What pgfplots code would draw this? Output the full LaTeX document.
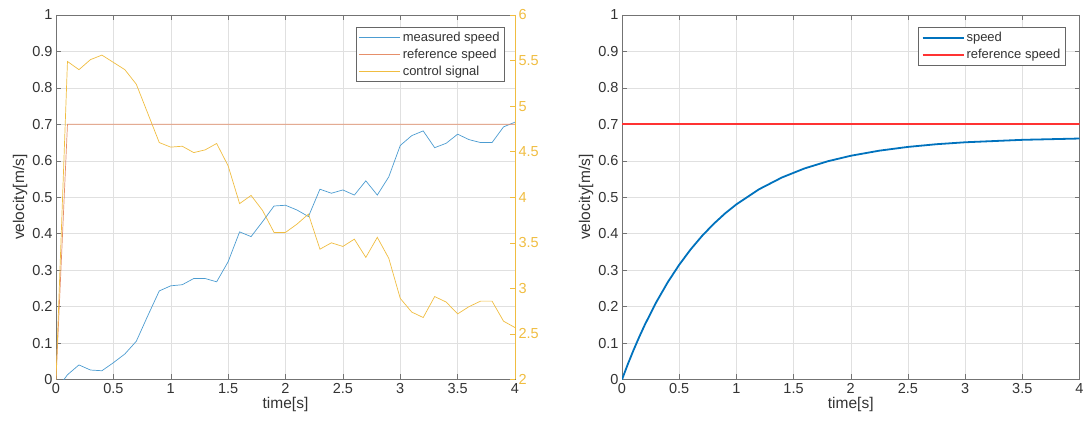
\documentclass[border=0pt]{standalone}
\usepackage{pgfplots}
\pgfplotsset{compat=1.18}
\usepackage{fontspec}
\setmainfont{Liberation Sans}
\definecolor{mblue}{rgb}{0,0.447,0.741}
\definecolor{morange}{rgb}{0.85,0.325,0.098}
\definecolor{myellow}{rgb}{0.929,0.694,0.125}
\definecolor{axgray}{rgb}{0.2,0.2,0.2}
\definecolor{gridgray}{rgb}{0.88,0.88,0.88}
\definecolor{mred}{rgb}{1,0.2,0.2}
\colorlet{lblue}{mblue!70!white}
\colorlet{lorange}{morange!65!white}
\colorlet{lyellow}{myellow!85!white}
\pgfplotsset{
  mat/.style={
    scale only axis, height=364.5pt,
    xmin=0, xmax=4, xtick={0,0.5,1,1.5,2,2.5,3,3.5,4},
    tick align=inside, major tick length=5pt,
    axis line style={black!55, line width=0.6pt},
    every tick/.style={black!55, line width=0.5pt},
    tick label style={font=\fontsize{14.5}{16}\selectfont, text=axgray},
    label style={font=\fontsize{15.5}{17}\selectfont, text=axgray},
    /pgf/number format/assume math mode=true,
    legend image code/.code={\draw[##1] (0pt,0pt) -- (41pt,0pt);},
    legend style={draw=black!60, line width=0.6pt, fill=white,
      font=\fontsize{13}{15}\selectfont, text=axgray, inner xsep=3pt, inner ysep=3pt,
      row sep=2pt, cells={anchor=west}},
  }
}
\begin{document}
\begin{tikzpicture}
\path[use as bounding box] (0,0) rectangle (1087pt,425pt);
% ---------- left plot, left axis ----------
\begin{axis}[mat, at={(56pt,45.5pt)}, anchor=south west, width=459pt,
  ymin=0, ymax=1, ytick={0,0.1,0.2,0.3,0.4,0.5,0.6,0.7,0.8,0.9,1},
  ytick pos=left,
  grid=major, grid style={gridgray, line width=0.5pt},
  xlabel={time[s]}, ylabel={velocity[m/s]},
  xlabel style={yshift=3pt}, ylabel style={yshift=-2pt},
  legend style={at={(0.978,0.968)}, anchor=north east}]
\addplot[lblue, line width=0.7pt] coordinates {
(0,-0.03) (0.1,0.013) (0.2,0.040) (0.3,0.026) (0.4,0.024) (0.5,0.046)
(0.6,0.070) (0.7,0.105) (0.8,0.175) (0.9,0.243) (1.0,0.257) (1.1,0.260)
(1.2,0.277) (1.3,0.277) (1.4,0.268) (1.5,0.323) (1.6,0.405) (1.7,0.392)
(1.8,0.433) (1.9,0.476) (2.0,0.478) (2.1,0.465) (2.2,0.447) (2.3,0.522)
(2.4,0.511) (2.5,0.520) (2.6,0.506) (2.7,0.545) (2.8,0.506) (2.9,0.556)
(3.0,0.642) (3.1,0.669) (3.2,0.682) (3.3,0.636) (3.4,0.648) (3.5,0.673)
(3.6,0.658) (3.7,0.650) (3.8,0.650) (3.9,0.693) (4.0,0.706)};
\addlegendentry{measured speed}
\addplot[lorange, line width=0.7pt] coordinates {(0,0) (0.1,0.7) (4,0.7)};
\addlegendentry{reference speed}
\addlegendimage{lyellow, line width=0.7pt}
\addlegendentry{control signal}
\end{axis}
% ---------- left plot, right axis ----------
\begin{axis}[mat, at={(56pt,45.5pt)}, anchor=south west, width=459pt,
  ymin=2, ymax=6, ytick={2,2.5,3,3.5,4,4.5,5,5.5,6},
  axis x line=none, axis y line*=right,
  y axis line style={lyellow, line width=0.7pt},
  ytick style={lyellow, line width=0.6pt},
  yticklabel style={text=lyellow},
  xticklabels={}]
\addplot[lyellow, line width=0.7pt] coordinates {
(0,2.0) (0.1,5.49) (0.2,5.40) (0.3,5.51) (0.4,5.56) (0.5,5.48)
(0.6,5.40) (0.7,5.24) (0.8,4.92) (0.9,4.60) (1.0,4.55) (1.1,4.56)
(1.2,4.49) (1.3,4.52) (1.4,4.59) (1.5,4.345) (1.6,3.93) (1.7,4.02)
(1.8,3.855) (1.9,3.614) (2.0,3.614) (2.1,3.705) (2.2,3.815) (2.3,3.43)
(2.4,3.50) (2.5,3.46) (2.6,3.54) (2.7,3.34) (2.8,3.56) (2.9,3.33)
(3.0,2.89) (3.1,2.74) (3.2,2.68) (3.3,2.91) (3.4,2.85) (3.5,2.72)
(3.6,2.80) (3.7,2.86) (3.8,2.86) (3.9,2.64) (4.0,2.57)};
\end{axis}
% ---------- right plot ----------
\begin{axis}[mat, at={(622pt,45.5pt)}, anchor=south west, width=457.5pt,
  ymin=0, ymax=1, ytick={0,0.1,0.2,0.3,0.4,0.5,0.6,0.7,0.8,0.9,1},
  grid=major, grid style={gridgray, line width=0.5pt},
  xlabel={time[s]}, ylabel={velocity[m/s]},
  xlabel style={yshift=3pt}, ylabel style={yshift=-2pt},
  legend style={at={(0.970,0.967)}, anchor=north east}]
\addplot[mblue, line width=1.8pt] coordinates {
(0,0) (0.05,0.0413) (0.1,0.0800) (0.15,0.1163) (0.2,0.1504) (0.3,0.2123)
(0.4,0.2668) (0.5,0.3147) (0.6,0.3568) (0.7,0.3939) (0.8,0.4265)
(0.9,0.4553) (1.0,0.4805) (1.2,0.5222) (1.4,0.5545) (1.6,0.5795)
(1.8,0.5988) (2.0,0.6138) (2.25,0.6278) (2.5,0.6381) (2.75,0.6455)
(3.0,0.6508) (3.5,0.6575) (4.0,0.6611)};
\addlegendentry{speed}
\addplot[mred, line width=1.8pt] coordinates {(0,0.7) (4,0.7)};
\addlegendentry{reference speed}
\end{axis}
\end{tikzpicture}
\end{document}
